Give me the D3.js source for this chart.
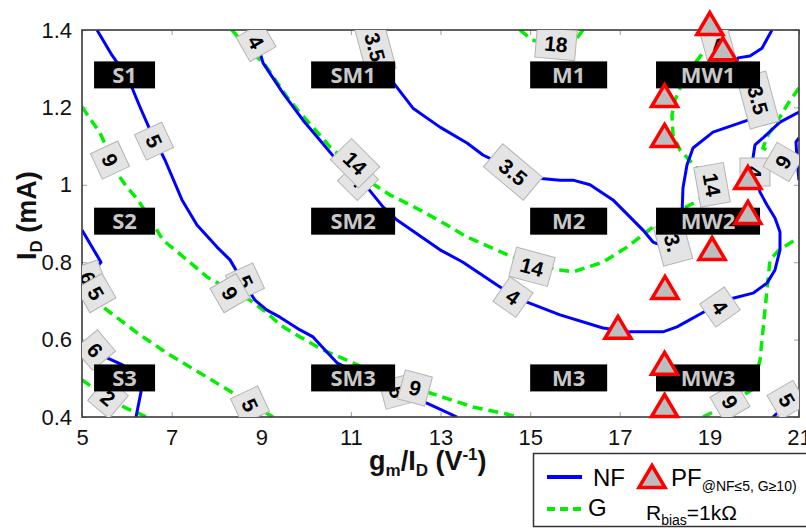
<!DOCTYPE html>
<html><head><meta charset="utf-8">
<script src="https://cdn.jsdelivr.net/npm/d3@7"></script>
<style>body{margin:0;background:#fff;} svg{display:block;}</style>
</head><body><svg id="c" width="806" height="529"></svg>
<script>
// ---------- data (gm/ID [V^-1], ID [mA]) ----------
const xTicks = [5,7,9,11,13,15,17,19,21];
const yTicks = [0.4,0.6,0.8,1.0,1.2,1.4];
const yTickLabels = ["0.4","0.6","0.8","1","1.2","1.4"];

// NF contours (blue, solid)
const nf5Main = [[5.335,1.4],[5.669,1.335],[6.026,1.276],[6.294,1.201],[6.517,1.142],[6.852,1.064],[7.232,0.961],[7.566,0.896],[8.013,0.839],[8.303,0.806],[8.526,0.762],[8.86,0.702],[9.128,0.676],[9.418,0.658],[9.865,0.625],[10.155,0.607],[10.423,0.573],[10.69,0.540],[11.427,0.496],[12.096,0.465],[12.386,0.452],[12.877,0.426],[13.368,0.4]];
const nf35 = [[11.315,1.4],[11.65,1.322],[11.985,1.258],[12.386,1.198],[12.989,1.149],[13.591,1.108],[13.948,1.077],[14.261,1.059],[14.662,1.038],[15.064,1.018],[15.667,1.012],[15.957,1.012],[16.336,1.0],[16.849,0.961],[17.519,0.883],[17.742,0.852],[18.077,0.837],[18.3,0.870],[18.389,0.922],[18.411,0.992],[18.5,1.051],[18.635,1.095],[19.081,1.136],[19.862,1.167],[20.063,1.219],[19.906,1.271],[19.572,1.310],[19.639,1.328],[19.906,1.333],[20.174,1.353],[20.397,1.4]];
const nf4 = [[8.86,1.4],[8.927,1.361],[9.039,1.315],[9.485,1.237],[9.932,1.167],[10.244,1.124],[10.646,1.069],[10.98,1.033],[11.36,0.994],[11.717,0.943],[12.029,0.909],[12.989,0.832],[13.502,0.8],[14.261,0.741],[14.618,0.715],[14.93,0.697],[15.667,0.664],[16.626,0.63],[17.229,0.62],[17.965,0.62],[18.278,0.633],[18.947,0.676],[19.46,0.705],[19.973,0.72],[20.286,0.746],[20.464,0.78],[20.576,0.832],[20.576,0.878],[20.464,0.914],[20.286,0.948],[20.13,0.981],[20.018,1.025],[19.973,1.069],[20.018,1.103],[20.196,1.121],[20.576,1.162],[21,1.188]];
const nf6Upper = [[5,0.883],[5.424,0.80],[5.312,0.785],[5.179,0.767]];
const nf6Lower = [[5,0.586],[5.424,0.56],[5.915,0.534],[6.183,0.508],[6.317,0.465],[6.205,0.4]];
const nf5Corner = [[20.42,0.4],[21,0.462]];
const nfEdge = [[21,1.121],[20.933,1.111],[20.956,1.064],[21,1.012]];

// G contours (green, dashed)
const g14 = [[8.347,1.4],[8.637,1.361],[9.084,1.31],[9.575,1.227],[9.865,1.186],[10.155,1.149],[10.534,1.098],[10.869,1.064],[11.427,1.007],[11.873,0.974],[12.542,0.935],[13.145,0.896],[13.591,0.865],[14.105,0.839],[14.618,0.813],[15.109,0.793],[15.667,0.78],[15.957,0.775],[16.626,0.8],[17.162,0.839],[17.742,0.891],[18.344,0.935],[18.79,0.961],[19.014,1.0],[18.724,1.043],[18.344,1.09],[18.188,1.129],[18.166,1.18],[18.233,1.219],[18.344,1.25],[18.567,1.297],[18.902,1.348],[19.237,1.387],[19.349,1.4]];
const g18 = [[14.774,1.4],[15.042,1.374],[15.332,1.366],[15.667,1.361],[15.957,1.366],[16.18,1.4]];
const g9Left = [[5,1.201],[5.402,1.134],[5.625,1.077],[5.781,1.03],[6.004,0.994],[6.25,0.961],[6.562,0.904],[6.808,0.857],[7.343,0.806],[7.789,0.762],[8.303,0.728],[8.749,0.702],[9.128,0.669],[9.418,0.638],[9.865,0.607],[10.378,0.573],[11.047,0.54],[12.029,0.49],[12.766,0.462],[13.725,0.426],[14.774,0.4]];
const g5 = [[5,0.741],[5.469,0.684],[5.848,0.651],[6.294,0.612],[6.964,0.56],[7.633,0.514],[8.37,0.462],[8.749,0.436],[9.262,0.4]];
const g2 = [[5,0.496],[5.312,0.47],[5.58,0.449],[5.982,0.423],[6.45,0.4]];
const g9Right = [[18.858,0.4],[19.304,0.426],[19.684,0.452],[19.951,0.47],[20.13,0.547],[20.241,0.676],[20.308,0.754],[20.353,0.806],[20.576,0.834],[21,0.863]];
const g9Upper = [[21,1.25],[20.732,1.206],[20.509,1.162],[20.308,1.129],[20.196,1.095],[20.397,1.082],[20.687,1.064]];

// PF points (triangles)
const pfPoints = [[19.01,1.418],[19.30,1.353],[18.0,1.232],[18.0,1.129],[19.86,1.02],[19.86,0.93],[19.06,0.837],[18.01,0.736],[16.96,0.633],[18.0,0.54],[18.0,0.431]];

// region tags
const regionNames = ["S1","SM1","M1","MW1","S2","SM2","M2","MW2","S3","SM3","M3","MW3"];
const regionX = [5.95,11.05,15.86,18.97];
const regionY = [1.284,0.906,0.501];

// contour labels: text, x, y, angle
const contourLabels = [
  ["4",8.883,1.369,60],["3.5",11.538,1.356,75],["18",15.577,1.364,5],["5",6.607,1.113,65],["9",5.625,1.064,65],
  ["4",11.159,1.012,45],["14",11.092,1.056,45],["3.5",14.618,1.033,40],["3.5",20.085,1.219,75],["4",20.018,1.033,90],
  ["9",20.643,1.059,-60],["14",19.059,1.0,80],["3.",18.188,0.85,75],["14",15.042,0.788,15],["4",14.618,0.71,35],
  ["4",19.237,0.684,55],["5",8.637,0.749,65],["9",8.303,0.72,60],["6",5.134,0.759,70],["5",5.312,0.72,60],
  ["6",5.29,0.573,50],["2",5.58,0.449,40],["5",8.749,0.431,65],["5",12.029,0.465,75],["9",12.431,0.475,15],
  ["9",19.46,0.439,60],["5",20.732,0.444,60],["4",19.192,1.359,-15]
];

// ---------- drawing ----------
const svg = d3.select("#c");
const M = {left:82, right:799, top:30, bottom:417};
const x = d3.scaleLinear().domain([5,21]).range([M.left,M.right]);
const y = d3.scaleLinear().domain([0.4,1.4]).range([M.bottom,M.top]);
const FONT = "'Liberation Sans', Arial, sans-serif";
const tagWidths = [61,84,77,104];

svg.append("defs").append("clipPath").attr("id","plot")
  .append("rect").attr("x",M.left).attr("y",M.top).attr("width",M.right-M.left).attr("height",M.bottom-M.top);

const line = d3.line().x(d=>x(d[0])).y(d=>y(d[1]));
const plot = svg.append("g").attr("clip-path","url(#plot)");

[g14,g18,g9Left,g5,g2,g9Right,g9Upper].forEach(c=>{
  plot.append("path").attr("d",line(c)).attr("fill","none").attr("stroke","#00f000")
    .attr("stroke-width",3.5).attr("stroke-dasharray","10,6");
});
[nf5Main,nf35,nf4,nf6Upper,nf6Lower,nf5Corner,nfEdge].forEach(c=>{
  plot.append("path").attr("d",line(c)).attr("fill","none").attr("stroke","#0000ff")
    .attr("stroke-width",3).attr("stroke-linejoin","round");
});

// axes
function styleAxis(g){
  g.select(".domain").remove();
  g.selectAll(".tick line").attr("stroke","#a0a0a0").attr("stroke-width",1);
  g.selectAll(".tick text").attr("font-size",22).attr("font-family",FONT).attr("fill","#111");
}
svg.append("g").attr("transform",`translate(0,${M.bottom})`)
  .call(d3.axisBottom(x).tickValues(xTicks).tickSizeInner(-5).tickSizeOuter(0).tickPadding(12).tickFormat(d3.format("d")))
  .call(styleAxis);
svg.append("g").attr("transform",`translate(0,${M.top})`)
  .call(d3.axisTop(x).tickValues(xTicks).tickSizeInner(-5).tickSizeOuter(0).tickFormat(""))
  .call(styleAxis);
svg.append("g").attr("transform",`translate(${M.left},0)`)
  .call(d3.axisLeft(y).tickValues(yTicks).tickSizeInner(-5).tickSizeOuter(0).tickPadding(10).tickFormat((d,i)=>yTickLabels[i]))
  .call(styleAxis);
svg.append("g").attr("transform",`translate(${M.right},0)`)
  .call(d3.axisRight(y).tickValues(yTicks).tickSizeInner(-5).tickSizeOuter(0).tickFormat(""))
  .call(styleAxis);

svg.append("rect").attr("x",M.left).attr("y",M.top).attr("width",M.right-M.left).attr("height",M.bottom-M.top)
  .attr("fill","none").attr("stroke","#3a3a3a").attr("stroke-width",1.6);

// contour labels
const lab = svg.append("g").attr("clip-path","url(#plot)");
contourLabels.forEach(([t,lx,ly,a])=>{
  const g = lab.append("g").attr("transform",`translate(${x(lx)},${y(ly)}) rotate(${a})`);
  const w = t.length*12+16, h = 30;
  g.append("rect").attr("x",-w/2).attr("y",-h/2).attr("width",w).attr("height",h)
    .attr("fill","#e4e4e4").attr("stroke","#b4b4b4").attr("stroke-width",1);
  g.append("text").attr("text-anchor","middle").attr("dy","0.36em")
    .attr("font-family",FONT).attr("font-weight","bold").attr("font-size",21).attr("fill","#000").text(t);
});

// region tags
const tags = svg.append("g");
regionNames.forEach((n,i)=>{
  const cx = x(regionX[i%4]), cy = y(regionY[Math.floor(i/4)]);
  const g = tags.append("g").attr("transform",`translate(${cx},${cy})`);
  const w = tagWidths[i%4], h = 27;
  g.append("rect").attr("fill","#000").attr("x",-w/2).attr("y",-h/2).attr("width",w).attr("height",h);
  g.append("text").attr("text-anchor","middle").attr("dy","0.36em")
    .attr("font-family","'Open Sans', sans-serif").attr("font-weight","bold").attr("font-size",22)
    .attr("fill","#c8c8c8").text(n);
});

// PF triangles
const triPath = (()=>{const p=d3.path();p.moveTo(0,-10.5);p.lineTo(13,11.5);p.lineTo(-13,11.5);p.closePath();return p.toString();})();
svg.append("g").selectAll("path").data(pfPoints).join("path")
  .attr("d",triPath).attr("transform",d=>`translate(${x(d[0])},${y(d[1])})`)
  .attr("fill","#bdbdbd").attr("stroke","#ff0000").attr("stroke-width",3.5).attr("stroke-linejoin","miter");

// axis titles
const xt = svg.append("text").attr("x",369).attr("y",470).attr("font-family",FONT).attr("font-weight","bold").attr("font-size",27).attr("fill","#111");
xt.append("tspan").text("g");
xt.append("tspan").attr("font-size",17).attr("dy",6).text("m");
xt.append("tspan").attr("dy",-6).text("/I");
xt.append("tspan").attr("font-size",17).attr("dy",6).text("D");
xt.append("tspan").attr("dy",-6).text(" (V");
xt.append("tspan").attr("font-size",17).attr("dy",-10).text("-1");
xt.append("tspan").attr("dy",10).text(")");

const yt = svg.append("text").attr("transform","translate(36,260) rotate(-90)").attr("font-family",FONT)
  .attr("font-weight","bold").attr("font-size",27).attr("fill","#111");
yt.append("tspan").text("I");
yt.append("tspan").attr("font-size",17).attr("dy",6).text("D");
yt.append("tspan").attr("dy",-6).text(" (mA)");

// legend
const lg = svg.append("g");
lg.append("rect").attr("x",533.5).attr("y",453.5).attr("width",300).attr("height",73)
  .attr("fill","#fff").attr("stroke","#333").attr("stroke-width",1.5);
lg.append("line").attr("x1",547).attr("x2",582).attr("y1",477).attr("y2",477).attr("stroke","#0000ff").attr("stroke-width",4);
lg.append("text").attr("x",593).attr("y",486).attr("font-family",FONT).attr("font-size",24).text("NF");
lg.append("path").attr("d",triPath).attr("transform","translate(652,476)")
  .attr("fill","#bdbdbd").attr("stroke","#ff0000").attr("stroke-width",3.5);
const pf = lg.append("text").attr("x",671).attr("y",486).attr("font-family",FONT).attr("font-size",24);
pf.append("tspan").text("PF");
pf.append("tspan").attr("font-size",14).attr("dy",5).text("@NF≤5, G≥10)");
lg.append("line").attr("x1",547).attr("x2",582).attr("y1",509).attr("y2",509).attr("stroke","#00f000").attr("stroke-width",4).attr("stroke-dasharray","8,5");
lg.append("text").attr("x",588).attr("y",516).attr("font-family",FONT).attr("font-size",24).text("G");
const rb = lg.append("text").attr("x",646).attr("y",520).attr("font-family",FONT).attr("font-size",21);
rb.append("tspan").text("R");
rb.append("tspan").attr("font-size",14).attr("dy",5).text("bias");
rb.append("tspan").attr("dy",-5).text("=1kΩ");
</script></body></html>
